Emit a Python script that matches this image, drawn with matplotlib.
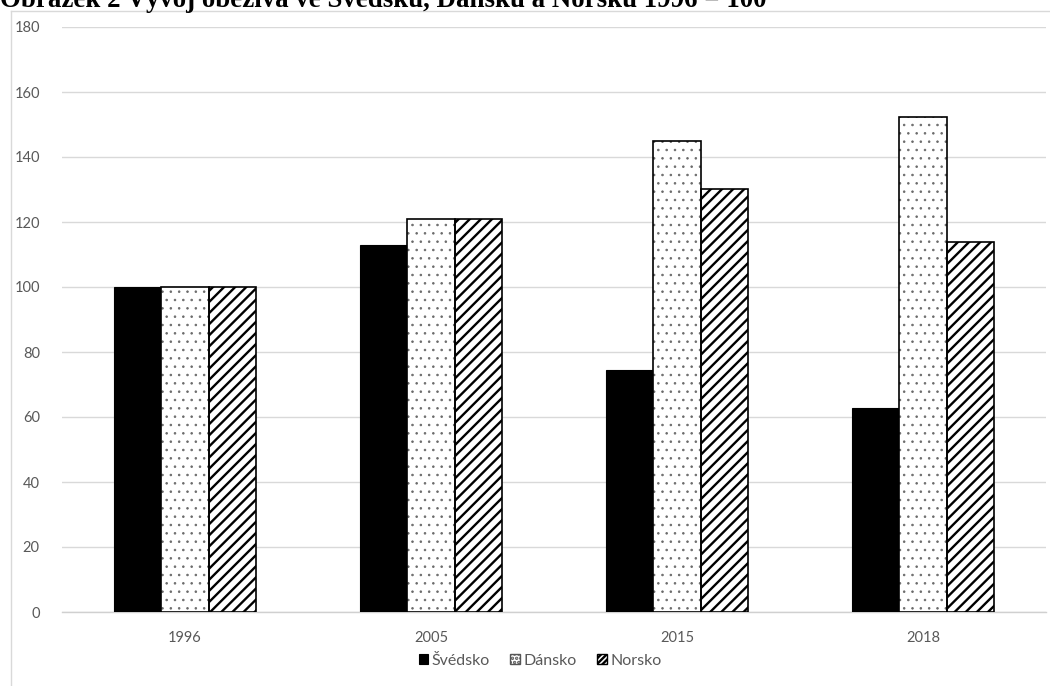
import matplotlib
matplotlib.use("Agg")
import matplotlib.pyplot as plt
from matplotlib.patches import Patch
from matplotlib.lines import Line2D
import numpy as np

# Data: currency in circulation index (1996 = 100)
years = ["1996", "2005", "2015", "2018"]
svedsko = [100, 112.9, 74.5, 62.9]
dansko = [100, 120.8, 144.9, 152.3]
norsko = [100, 120.8, 130.3, 113.8]
series_names = ["Švédsko", "Dánsko", "Norsko"]
title_text = "Obrázek 2 Vývoj oběživa ve Švédsku, Dánsku a Norsku 1996 = 100"
yticks = [0, 20, 40, 60, 80, 100, 120, 140, 160, 180]

W, H = 1050, 686
DPI = 100
plt.rcParams["font.family"] = ["Lato", "DejaVu Sans"]
plt.rcParams["hatch.linewidth"] = 1.7

fig = plt.figure(figsize=(W / DPI, H / DPI), dpi=DPI)
fig.patch.set_facecolor("white")

# plot area in pixel coordinates
left_px, right_px, top_px, bottom_px = 62, 1046, 27, 612
ax = fig.add_axes([left_px / W, (H - bottom_px) / H,
                   (right_px - left_px) / W, (bottom_px - top_px) / H])

x = np.arange(len(years))
bw = 0.1925
grey_text = "#595959"

# Švédsko: solid black
ax.bar(x - bw, svedsko, bw, color="black", edgecolor="black", linewidth=0.8, zorder=3)

# Dánsko: sparse dotted fill, drawn as hatch layer plus outline
dots = ax.bar(x, dansko, bw, color="white", edgecolor="#6a6a6a", linewidth=0,
              hatch="..", zorder=3)
for p in dots:
    if hasattr(p, "set_hatch_linewidth"):
        p.set_hatch_linewidth(0.6)
ax.bar(x, dansko, bw, fill=False, edgecolor="black", linewidth=1.2, zorder=4)

# Norsko: dense diagonal stripes
ax.bar(x + bw, norsko, bw, color="white", edgecolor="black", linewidth=1.2,
       hatch="///", zorder=3)

ax.set_xlim(-0.5, len(years) - 0.5)
ax.set_ylim(0, 180)
ax.set_yticks(yticks)
ax.set_xticks(x)
ax.set_xticklabels(years)
ax.yaxis.grid(True, color="#d9d9d9", linewidth=1.0, zorder=0)
ax.set_axisbelow(True)
for s in ["top", "right", "left"]:
    ax.spines[s].set_visible(False)
ax.spines["bottom"].set_color("#d0d0d0")
ax.spines["bottom"].set_linewidth(1.0)
ax.tick_params(axis="both", length=0, labelsize=10.5, colors=grey_text)
ax.tick_params(axis="y", pad=16)
ax.tick_params(axis="x", pad=14)

# legend with small square keys
handles = [
    Patch(facecolor="black", edgecolor="black", linewidth=0.8),
    Patch(facecolor="white", edgecolor="#555555", linewidth=1.0, hatch="...."),
    Patch(facecolor="white", edgecolor="black", linewidth=1.0, hatch="//////"),
]
leg = fig.legend(handles, series_names, loc="center", bbox_to_anchor=(540 / W, (H - 661) / H),
                 ncol=3, frameon=False, handlelength=0.6, handleheight=0.6,
                 handletextpad=0.2, columnspacing=1.3, fontsize=11.5)
for t in leg.get_texts():
    t.set_color(grey_text)

# chart-area border (light grey), running off the right and bottom edges
fig.add_artist(Line2D([11 / W, 11 / W], [0, (H - 11) / H], transform=fig.transFigure,
                      color="#d9d9d9", linewidth=1.0))
fig.add_artist(Line2D([11 / W, 1], [(H - 11) / H, (H - 11) / H], transform=fig.transFigure,
                      color="#d9d9d9", linewidth=1.0))

# title, sized to span its full width and sitting partly above the top edge
title = fig.text(0, (H - 7) / H, title_text, ha="left", va="baseline",
                 fontfamily="Liberation Serif", fontweight="bold", fontsize=16)
fig.canvas.draw()
wpx = title.get_window_extent(fig.canvas.get_renderer()).width
title.set_fontsize(16 * 767 / wpx)

fig.savefig("out.png", dpi=DPI, facecolor="white")
